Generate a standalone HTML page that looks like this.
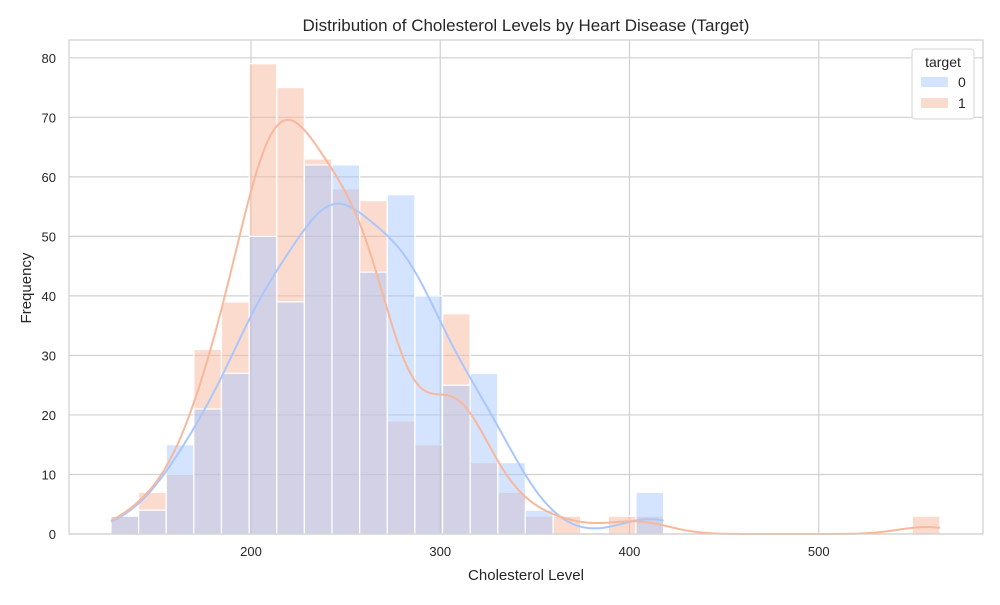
<!DOCTYPE html>
<html><head><meta charset="utf-8"><style>
body{margin:0;background:#fff;font-family:"Liberation Sans",sans-serif}
svg text{font-family:"Liberation Sans","DejaVu Sans",sans-serif;fill:#262626}
</style></head><body>
<svg id="chart" width="1000" height="600">
<text x="526" y="31" text-anchor="middle" font-size="17">Distribution of Cholesterol Levels by Heart Disease (Target)</text>
<text x="526" y="580" text-anchor="middle" font-size="15">Cholesterol Level</text>
<text x="31" y="288" text-anchor="middle" font-size="15" transform="rotate(-90 31 288)">Frequency</text>
<g id="grid"></g><g id="bars"></g><g id="lines"></g><g id="ticks"></g>
<rect x="69" y="40" width="914" height="494" fill="none" stroke="#cfcfcf" stroke-width="1.2"/>
<g>
<rect x="912" y="49" width="62" height="70" rx="3" fill="#fff" stroke="#d6d6d6"/>
<text x="943" y="67" text-anchor="middle" font-size="14">target</text>
<rect x="921" y="77" width="27" height="10" fill="rgba(170,199,253,0.5)"/>
<text x="958" y="87" font-size="14">0</text>
<rect x="921" y="98" width="27" height="10" fill="rgba(247,184,156,0.5)"/>
<text x="958" y="108" font-size="14">1</text>
</g>
</svg>
<script>
const binStart = 126, binWidth = 14.6;
const counts0 = [3,4,15,21,27,50,39,62,62,44,57,40,25,27,12,4,0,0,0,7,0,0,0,0,0,0,0,0,0,0];
const counts1 = [3,7,10,31,39,79,75,63,58,56,19,15,37,12,7,3,3,0,3,3,0,0,0,0,0,0,0,0,0,3];
const xTicks = [200,300,400,500];
const yTicks = [0,10,20,30,40,50,60,70,80];
const NS="http://www.w3.org/2000/svg";
const X=v=>251+(v-200)*1.8925, Y=v=>534-v*5.9525;
function mk(t,a,p){const e=document.createElementNS(NS,t);for(const k in a)e.setAttribute(k,a[k]);document.getElementById(p).appendChild(e);return e;}
xTicks.forEach(t=>{const l=mk('line',{x1:X(t),x2:X(t),y1:40,y2:534,stroke:'#d0d0d0','stroke-width':1.2},'grid');


const tx=mk('text',{x:X(t),y:556,'text-anchor':'middle','font-size':13},'ticks');tx.textContent=t;

});
yTicks.forEach(t=>{const l=mk('line',{x1:69,x2:983,y1:Y(t),y2:Y(t),stroke:'#d0d0d0','stroke-width':1.2},'grid');


const tx=mk('text',{x:56,y:Y(t)+5,'text-anchor':'end','font-size':13},'ticks');tx.textContent=t;

});
function bars(c,fill,name){c.forEach((v,i)=>{if(!v)return;const x0=X(binStart+i*binWidth),x1=X(binStart+(i+1)*binWidth);
const r=mk('rect',{x:x0,y:Y(v),width:x1-x0,height:Y(0)-Y(v),fill:fill,stroke:'#fff','stroke-width':1.2},'bars');

});}
bars(counts1,'rgba(247,184,156,0.5)','bar-target-1');
bars(counts0,'rgba(170,199,253,0.5)','bar-target-0');
function kde(c,col,name,adj){let n=0,s=0,ss=0;c.forEach((v,i)=>{const m=binStart+(i+.5)*binWidth;n+=v;s+=v*m;ss+=v*m*m;});
const mu=s/n,sd=Math.sqrt(ss/n-mu*mu),bw=adj*sd*Math.pow(n,-0.2);
let lo=binStart,hi=binStart+c.length*binWidth;
c.forEach((v,i)=>{if(v)hi=Math.max(hi,0);});
let last=0;c.forEach((v,i)=>{if(v)last=i;});hi=binStart+(last+1)*binWidth;
let d='';for(let k=0;k<=300;k++){const x=lo+(hi-lo)*k/300;let f=0;
c.forEach((v,i)=>{const m=binStart+(i+.5)*binWidth;f+=v*Math.exp(-0.5*((x-m)/bw)**2);});
f=f/(bw*Math.sqrt(2*Math.PI))*binWidth;d+=(k?'L':'M')+X(x).toFixed(1)+','+Y(f).toFixed(1);}
const p=mk('path',{d:d,fill:'none',stroke:col,'stroke-width':2},'lines');

}
kde(counts0,'#aac7fd','kde-line-target-0',1.15);
kde(counts1,'#f7b89c','kde-line-target-1',1.0);
</script>
</body></html>
